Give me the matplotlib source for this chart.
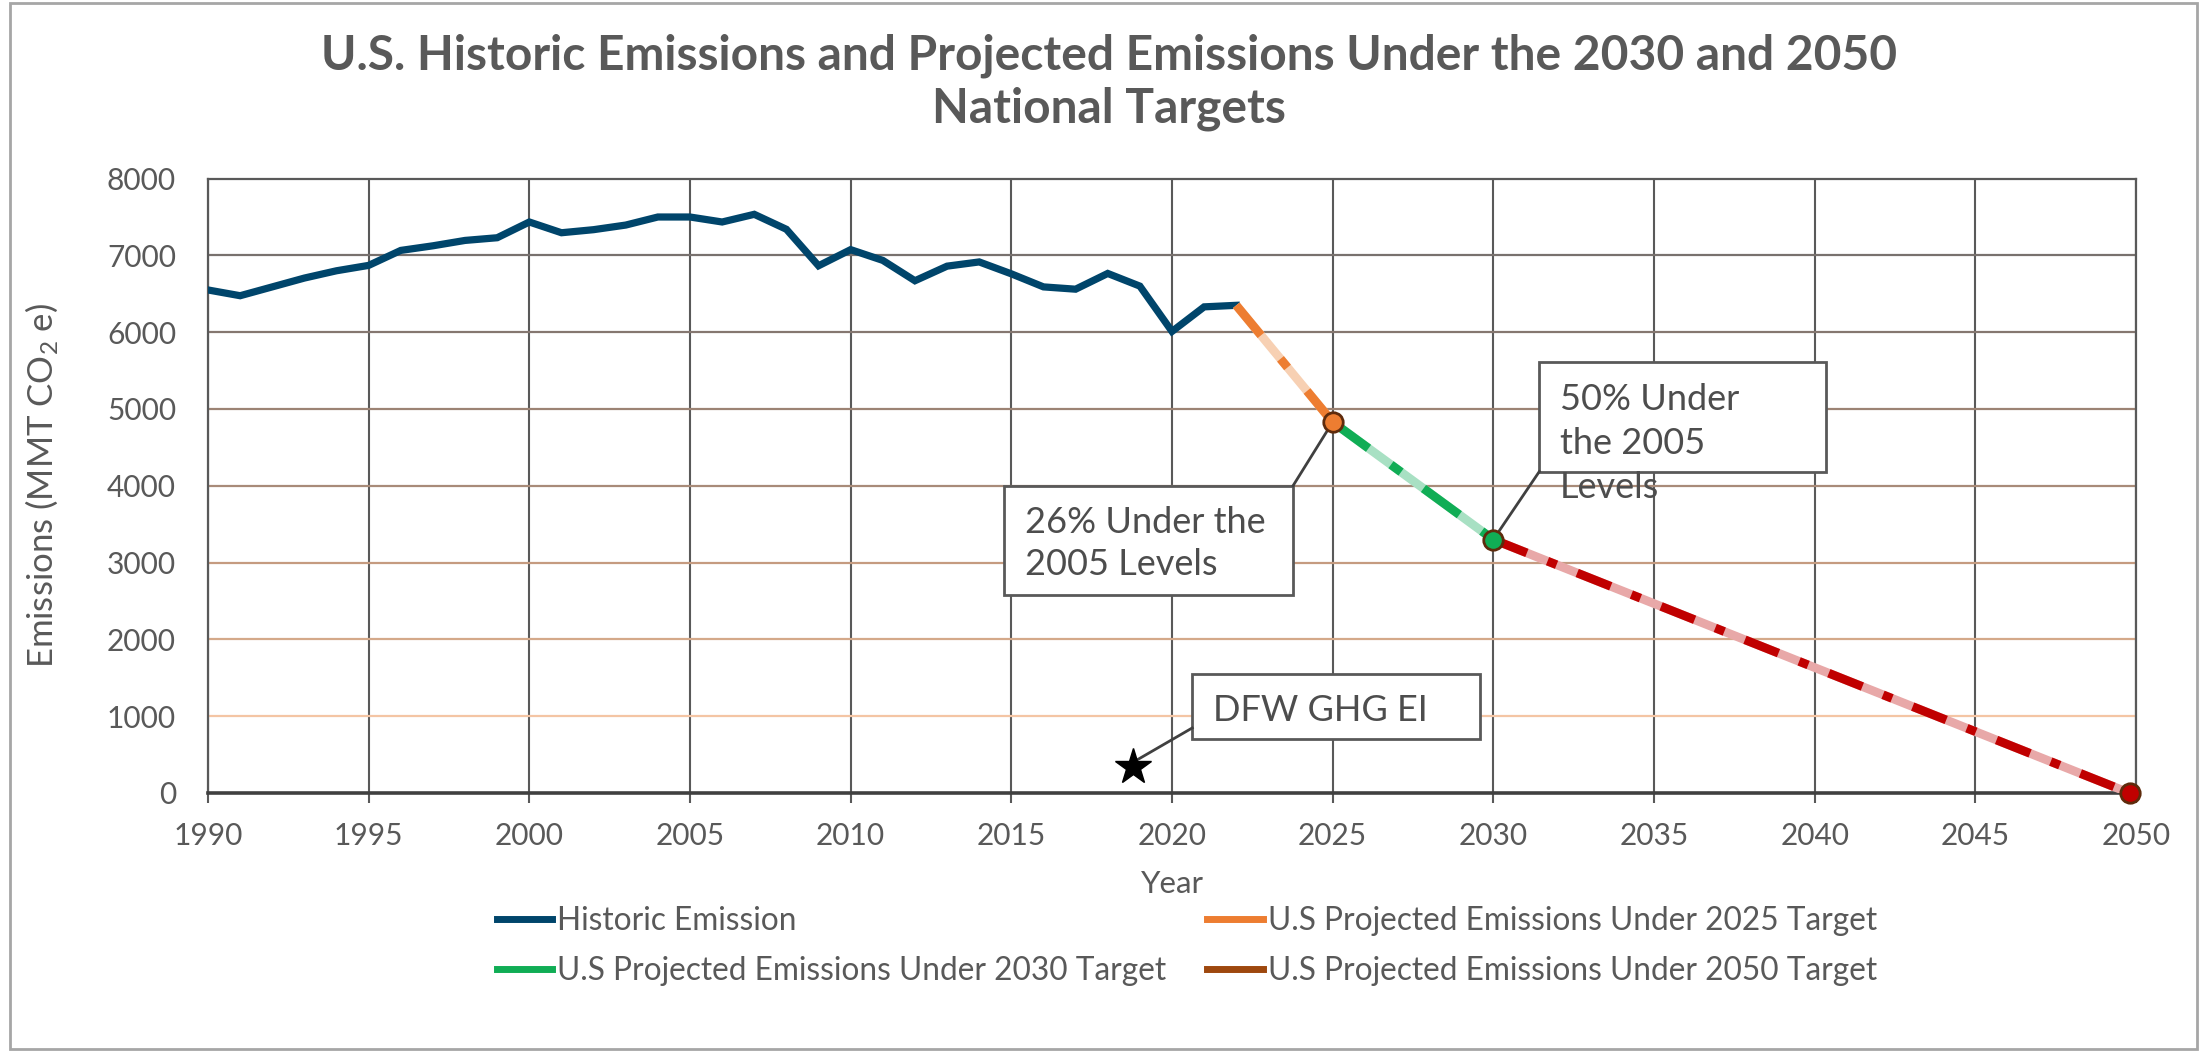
import matplotlib
matplotlib.use('Agg')
import matplotlib.pyplot as plt
from matplotlib.lines import Line2D
from matplotlib.patches import Rectangle

# ---------------- data ----------------
years_hist = list(range(1990, 2023))
emis_hist = [6550, 6475, 6590, 6705, 6800, 6870, 7065, 7125, 7195, 7230,
             7435, 7295, 7335, 7395, 7500, 7500, 7435, 7535, 7340, 6865,
             7075, 6935, 6670, 6860, 6915, 6760, 6590, 6560, 6765, 6600,
             6010, 6330, 6350]
years_2025 = [2022, 2025]
emis_2025 = [6350, 4830]
years_2030 = [2025, 2030]
emis_2030 = [4830, 3300]
years_2050 = [2030, 2049.8]
emis_2050 = [3300, 0]
dfw_year = [2018.8]
dfw_emis = [345]

x_ticks = [1990, 1995, 2000, 2005, 2010, 2015, 2020, 2025, 2030, 2035, 2040, 2045, 2050]
y_ticks = [0, 1000, 2000, 3000, 4000, 5000, 6000, 7000, 8000]

title = "U.S. Historic Emissions and Projected Emissions Under the 2030 and 2050\nNational Targets"
x_label = "Year"
y_label = "Emissions (MMT CO$_2$ e)"
lbl_hist = "Historic Emission"
lbl_2025 = "U.S Projected Emissions Under 2025 Target"
lbl_2030 = "U.S Projected Emissions Under 2030 Target"
lbl_2050 = "U.S Projected Emissions Under 2050 Target"
note_2025 = "26% Under the\n2005 Levels"
note_2030 = "50% Under\nthe 2005\nLevels"
note_dfw = "DFW GHG EI"

# ---------------- style ----------------
plt.rcParams['font.family'] = ['Lato', 'DejaVu Sans']
plt.rcParams['mathtext.fontset'] = 'custom'
plt.rcParams['mathtext.rm'] = 'Lato'
plt.rcParams['mathtext.it'] = 'Lato:italic'
plt.rcParams['mathtext.bf'] = 'Lato:bold'
plt.rcParams['mathtext.default'] = 'regular'
plt.rcParams['lines.scale_dashes'] = False

TXT = '#595959'
C_HIST = '#00456B'
C_25, C_25L = '#ED7D31', '#F7D0B3'
C_30, C_30L = '#10AD55', '#A8E0C3'
C_50, C_50L = '#C00000', '#E8A8A8'
C_50LEG = '#9E480E'
EDGE = '#5E2B0C'
BOX = '#595959'

W, H = 2205, 1051
fig = plt.figure(figsize=(W / 100, H / 100), dpi=100)
L, R, T, B = 208, 2136, 178.6, 793
ax = fig.add_axes([L / W, 1 - B / H, (R - L) / W, (B - T) / H])

ax.set_xlim(1990, 2050)
ax.set_ylim(0, 8000)
ax.set_xticks(x_ticks)
ax.set_yticks(y_ticks)
ax.tick_params(axis='x', labelsize=21.5, colors=TXT, length=7, width=1.5, pad=14,
               color='#595959', direction='out')
ax.tick_params(axis='y', labelsize=21.5, colors=TXT, length=0, pad=23)

# grid
ax.grid(axis='x', color='#595959', lw=1.5, zorder=1)
hcols = ['#404040', '#F4C5A4', '#D4A98A', '#C59B80', '#A88B79', '#9C8374', '#857770', '#78716E', '#595959']
for yv, c in zip(y_ticks[1:-1], hcols[1:-1]):
    ax.axhline(yv, color=c, lw=1.6, zorder=1)
ax.set_axisbelow(True)
for s in ['top', 'left', 'right']:
    ax.spines[s].set_color('#595959')
    ax.spines[s].set_linewidth(1.6)
ax.spines['bottom'].set_color('#404040')
ax.spines['bottom'].set_linewidth(2.6)

# lines
ax.plot(years_hist, emis_hist, color=C_HIST, lw=5.2, solid_joinstyle='miter', zorder=3)
for xs, ys, cl, cd, pat in [(years_2025, emis_2025, C_25L, C_25, (28, 22, 8, 22)),
                            (years_2030, emis_2030, C_30L, C_30, (32, 20, 9, 20)),
                            (years_2050, emis_2050, C_50L, C_50, (26, 16, 7, 16))]:
    ax.plot(xs, ys, color=cl, lw=6.3, solid_capstyle='butt', zorder=3)
    ax.plot(xs, ys, color=cd, lw=6.3, dashes=pat, dash_capstyle='butt', zorder=3.1)

ax.plot(years_2025[-1:], emis_2025[-1:], 'o', ms=14, mfc=C_25, mec=EDGE, mew=2, zorder=6)
ax.plot(years_2030[-1:], emis_2030[-1:], 'o', ms=14, mfc=C_30, mec=EDGE, mew=2, zorder=6)
ax.plot(years_2050[-1:], emis_2050[-1:], 'o', ms=14, mfc=C_50, mec=EDGE, mew=2, zorder=6, clip_on=False)
ax.plot(dfw_year, dfw_emis, '*', ms=27, color='black', zorder=6)

# annotation boxes
def box(x0, x1, y0, y1):
    ax.add_patch(Rectangle((x0, y0), x1 - x0, y1 - y0, facecolor='white',
                           edgecolor=BOX, lw=2, zorder=4))

box(2014.77, 2023.77, 2581, 4003)
ax.text(2015.42, 3742, note_2025, fontsize=26, color='#4D4D4D', va='top', ha='left',
        linespacing=1.36, zorder=7)
ax.plot([2023.77, years_2025[-1]], [4003, emis_2025[-1]], color='#404040', lw=2, zorder=5)

box(2031.43, 2040.34, 4185, 5606)
ax.text(2032.08, 5345, note_2030, fontsize=26, color='#4D4D4D', va='top', ha='left',
        linespacing=1.42, zorder=7)
ax.plot([2031.43, years_2030[-1]], [4185, emis_2030[-1]], color='#404040', lw=2, zorder=5)

box(2020.63, 2029.6, 704, 1551)
ax.text(2021.28, 1290, note_dfw, fontsize=26, color='#4D4D4D', va='top', ha='left', zorder=7)
ax.plot([2020.63, dfw_year[0] + 0.13], [847, dfw_emis[0] + 90], color='#404040', lw=2, zorder=5)

# labels
fig.text(1109 / W, 1 - 34 / H, title, ha='center', va='top', fontsize=34.5,
         fontweight='bold', color=TXT, linespacing=1.22)
fig.text(1172 / W, 1 - 884 / H, x_label, ha='center', va='center', fontsize=22.5, color=TXT)
fig.text(42 / W, 1 - 485 / H, y_label, ha='center', va='center', rotation=90,
         fontsize=25, color=TXT)

# legend
handles = [Line2D([], [], color=C_HIST, lw=5),
           Line2D([], [], color=C_30, lw=5),
           Line2D([], [], color=C_25, lw=5),
           Line2D([], [], color=C_50LEG, lw=5)]
labels = [lbl_hist, lbl_2030, lbl_2025, lbl_2050]
fig.legend(handles, labels, loc='upper left', bbox_to_anchor=(497 / W, 1 - 906 / H),
           ncol=2, frameon=False, fontsize=22.8, handlelength=1.75, handletextpad=0.15,
           columnspacing=1.3, labelspacing=0.62, borderpad=0, borderaxespad=0,
           labelcolor=TXT)

# outer border
fig.patches.append(Rectangle((10 / W, 1 - 1049 / H), (2197 - 10) / W, (1049 - 3) / H,
                             transform=fig.transFigure, fill=False,
                             edgecolor='#A6A6A6', lw=2))

fig.savefig('out.png', dpi=100)
